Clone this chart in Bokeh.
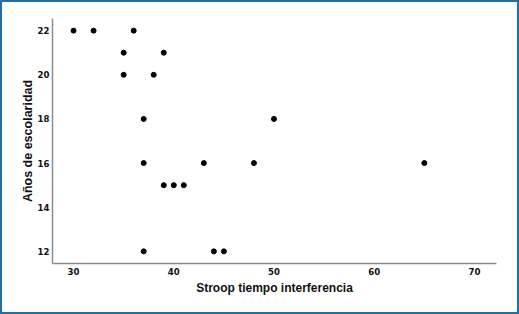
from bokeh.plotting import figure
from bokeh.models import Range1d, FixedTicker
from bokeh.embed import file_html
from bokeh.resources import INLINE

stroop = [30, 32, 36, 35, 39, 35, 38, 37, 50, 37, 43, 48, 65, 39, 40, 41, 37, 44, 45]
escolaridad = [22, 22, 22, 21, 21, 20, 20, 18, 18, 16, 16, 16, 16, 15, 15, 15, 12, 12, 12]
x_ticks = [30, 40, 50, 60, 70]
y_ticks = [12, 14, 16, 18, 20, 22]

p = figure(width=519, height=314, output_backend="svg", toolbar_location=None,
           x_range=Range1d(27.9, 72.2), y_range=Range1d(11.45, 22.55),
           min_border_left=50, min_border_right=25, min_border_top=16, min_border_bottom=53)
p.styles = {"border": "2px solid #1d6fae"}
p.outline_line_color = None
p.background_fill_color = "white"
p.border_fill_color = "white"
p.grid.visible = False

p.scatter(stroop, escolaridad, size=5, color="black")

for ax in (p.xaxis[0], p.yaxis[0]):
    ax.axis_line_color = "#8c8c8c"
    ax.axis_line_width = 1.5
    ax.major_tick_line_color = None
    ax.minor_tick_line_color = None
    ax.major_tick_out = 0
    ax.major_tick_in = 0
    ax.minor_tick_out = 0
    ax.minor_tick_in = 0
    ax.major_label_text_font = "'Liberation Sans Narrow', 'DejaVu Sans Condensed', 'Liberation Sans', sans-serif"
    ax.major_label_text_font_style = "bold"
    ax.major_label_text_font_size = "9.5px"
    ax.major_label_text_color = "#111111"
    ax.axis_label_text_font = "'Liberation Sans', sans-serif"
    ax.axis_label_text_font_style = "bold"
    ax.axis_label_text_color = "#111111"

p.xaxis.ticker = FixedTicker(ticks=x_ticks)
p.yaxis.ticker = FixedTicker(ticks=y_ticks)
p.xaxis.axis_label = "Stroop tiempo interferencia"
p.yaxis.axis_label = "Años de escolaridad"
p.xaxis.axis_label_text_font_size = "12px"
p.yaxis.axis_label_text_font_size = "12.5px"
p.xaxis.major_label_standoff = 4
p.yaxis.major_label_standoff = 3
p.xaxis.axis_label_standoff = 3
p.yaxis.axis_label_standoff = 0

open("out.html", "w").write(file_html(p, INLINE))
